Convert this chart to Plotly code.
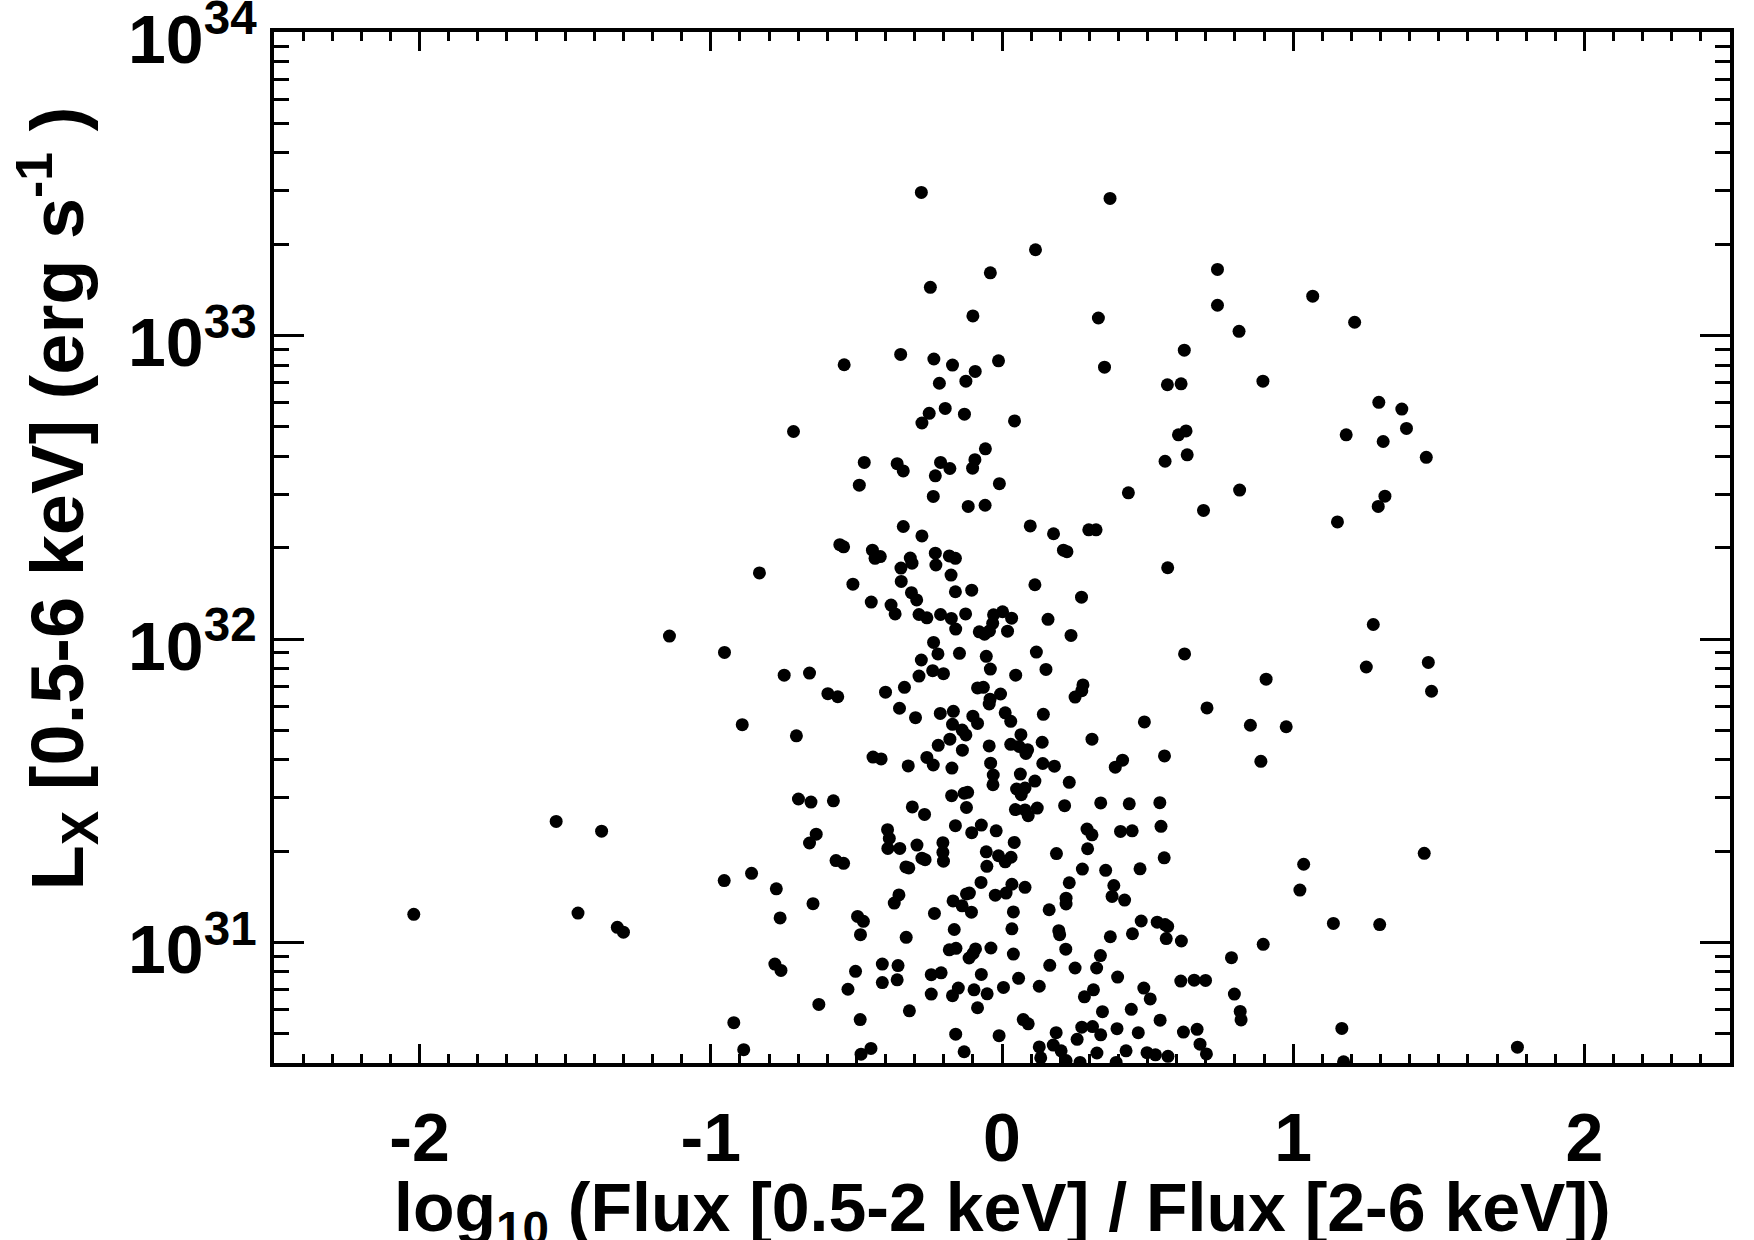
import numpy as np
import plotly.graph_objects as go

# log10(Flux[0.5-2 keV] / Flux[2-6 keV])
hardness = [
    -1.142, -1.531, -1.375, -2.020, -1.456, -1.321, -1.300,
    -0.277, -0.246, -0.542, -0.348, -0.234, -0.170, -0.215, -0.195, -0.250, -0.275, -0.716, -0.473, -0.360, -0.339, -0.211, -0.179, -0.129,
    -0.229, -0.490, -0.236, -0.339, -0.275, -0.557, -0.544, -0.445, -0.436, -0.418, -0.315, -0.309, -0.229, -0.181, -0.160, -0.347, -0.227,
    -0.833, -0.175, -0.346, -0.512, -0.311, -0.293, -0.160, -0.449, -0.381, -0.367, -0.285, -0.258, -0.211, -0.174, -0.159, -0.235, -0.220,
    -0.146, -0.953, -0.277, -0.748, -0.661, -0.238, -0.201, -0.285, -0.598, -0.564, -0.400, -0.335, -0.352, -0.297, -0.212, -0.167, -0.892,
    -0.706, -0.170, -0.219, -0.179, -0.136, -0.443, -0.415, -0.322, -0.258, -0.236, -0.172,
    -0.699, -0.656, -0.579, -0.308, -0.266, -0.173, -0.160, -0.393, -0.387, -0.638, -0.661, -0.392, -0.351, -0.292, -0.203, -0.203, -0.201,
    -0.275, -0.264, -0.570, -0.544, -0.330, -0.320, -0.954, -0.860, -0.775, -0.649, -0.762, -0.354, -0.370, -0.168, -0.232, -0.496, -0.476,
    -0.486, -0.329, -0.164, -0.181, -0.158, -0.780, -0.759, -0.503, -0.411, -0.357, -0.411, -0.360, -0.243, -0.209, -0.529, -0.243, -0.170,
    -0.150, -0.629, -0.318, -0.921, -0.487, -0.159, -0.887, -0.484, -0.450, -0.130,
    0.371, 0.115, -0.040, 0.740, -0.100, 0.331, 0.740, 0.626, -0.012, -0.092, -0.124, 0.352, 0.568, 0.615, 0.043, 0.632, 0.606, 0.636,
    0.560, -0.057, -0.093, -0.101,
    -0.009, 0.434, 0.692, -0.116, -0.058, 0.097, 0.177, 0.298, 0.323, 0.211, 0.223, 0.569, 0.113, -0.104, 0.273, -0.125, -0.029, 0.002,
    0.033, -0.032, -0.043, -0.078, -0.060, 0.019, 0.158, 0.237, 0.118, 0.627, -0.054, -0.040, 0.047, 0.151, -0.084, -0.064, -0.005, -0.041,
    -0.044, 0.278, 0.274, 0.251, 0.704, -0.100, -0.084, 0.011, 0.030, 0.142, 0.489, -0.137, -0.124, 0.065, 0.030, 0.059, 0.088, 0.082,
    0.138, -0.044, 0.309, -0.039, 0.140, 0.180, 0.389, 0.414, 0.558,
    -0.030, 0.063, -0.031, 0.113, 0.231, 0.050, 0.079, 0.066, -0.130, -0.118, -0.122, 0.046, 0.079, 0.090, 0.121, 0.215, 0.339, 0.437,
    0.542, -0.104, -0.071, -0.020, 0.042, 0.292, 0.309, 0.407, 0.447, 0.546, -0.054, -0.012, 0.011, 0.031, -0.052, 0.187, 0.294, 0.557,
    0.276, 0.356, 0.474, -0.072, 0.034, 0.079, 0.231, 0.384, -0.122, -0.112, -0.023, 0.014, 0.378, 0.421, 0.220, 0.220, -0.137, -0.105,
    0.039, 0.162, 0.034, 0.195, 0.198, 0.372, 0.448, 0.478, 0.533, 0.560, 0.569, 0.564, 0.616, -0.091, -0.099, -0.113, -0.038, 0.039,
    0.219, 0.164, 0.251, 0.325, 0.338, 0.397, -0.071, 0.057, -0.096, -0.051, 0.005, 0.128, -0.084, 0.283, 0.314, 0.487, 0.509, 0.614,
    0.660, 0.699, 0.345, 0.444, 0.543, 0.073, 0.090, -0.010, 0.186, 0.274, 0.311, 0.339, 0.395, 0.258, 0.468, 0.623, 0.670, 0.680, 0.702,
    0.128, 0.133, 0.176, 0.203, 0.220, 0.268, 0.326, 0.392, 0.426, 0.498, 0.527, 0.570,
    1.067, 1.211, 0.814, 0.896, 1.294, 1.373, 1.389, 1.182, 1.309, 1.457,
    0.816, 1.315, 1.292, 1.152, 1.275, 1.251, 1.464, 1.475, 0.907, 0.853, 0.976, 0.889,
    1.036, 1.023, 1.450, 1.138, 1.297, 0.897, 0.788, 0.798, 0.818, 0.821, 1.167, 1.770, 1.173,
]

# log10 of L_X [0.5-6 keV] in erg/s
log_lx = [
    32.010, 31.399, 31.367, 31.093, 31.097, 31.050, 31.034,
    33.472, 33.159, 32.904, 32.938, 32.923, 32.903, 32.843, 32.760, 32.744, 32.712, 32.684, 32.582, 32.578, 32.554, 32.582, 32.562, 32.741,
    32.538, 32.507, 32.470, 32.371, 32.340, 32.311, 32.304, 32.293, 32.266, 32.272, 32.267, 32.250, 32.283, 32.274, 32.266, 32.234, 32.244,
    32.218, 32.211, 32.190, 32.181, 32.153, 32.129, 32.156, 32.122, 32.112, 32.083, 32.081, 32.070, 32.081, 32.068, 32.033, 31.989, 31.951,
    31.953, 31.956, 31.931, 31.881, 31.888, 31.896, 31.886, 31.878, 31.820, 31.810, 31.825, 31.841, 31.772, 31.741, 31.755, 31.762, 31.718,
    31.681, 31.719, 31.650, 31.670, 31.634, 31.611, 31.605, 31.582, 31.610, 31.585, 31.575,
    31.473, 31.463, 31.467, 31.447, 31.422, 31.484, 31.385, 31.372, 31.343, 31.357, 31.328, 31.310, 31.310, 31.321, 31.329, 31.297, 31.268,
    31.278, 31.273, 31.270, 31.261, 31.249, 31.246, 31.204, 31.228, 31.177, 31.128, 31.081, 31.157, 31.130, 31.137, 31.096, 31.086, 31.070,
    31.026, 31.017, 31.043, 30.976, 30.981, 30.929, 30.908, 30.905, 30.929, 30.924, 30.868, 30.877, 30.894, 30.900, 30.846, 30.830, 30.825,
    30.850, 30.796, 30.775, 30.736, 30.746, 30.698, 30.647, 30.632, 30.651, 30.640,
    33.452, 33.283, 33.207, 33.218, 33.065, 33.058, 33.100, 32.952, 32.917, 32.882, 32.850, 32.896, 32.838, 32.841, 32.719, 32.686, 32.673,
    32.607, 32.586, 32.627, 32.591, 32.563,
    32.512, 32.482, 32.424, 32.437, 32.441, 32.373, 32.347, 32.360, 32.360, 32.293, 32.288, 32.235, 32.179, 32.161, 32.138, 32.083, 32.080,
    32.090, 32.069, 32.052, 32.027, 32.024, 32.016, 32.026, 32.065, 32.012, 31.957, 31.951, 31.943, 31.901, 31.881, 31.900, 31.839, 31.841,
    31.819, 31.802, 31.786, 31.849, 31.830, 31.809, 31.773, 31.746, 31.722, 31.757, 31.729, 31.752, 31.727, 31.700, 31.684, 31.685, 31.653,
    31.646, 31.635, 31.623, 31.660, 31.648, 31.670, 31.591, 31.590, 31.581, 31.578, 31.601, 31.615,
    31.552, 31.555, 31.520, 31.532, 31.528, 31.506, 31.509, 31.487, 31.492, 31.495, 31.445, 31.438, 31.437, 31.418, 31.443, 31.451, 31.460,
    31.457, 31.461, 31.362, 31.387, 31.368, 31.330, 31.374, 31.355, 31.366, 31.368, 31.383, 31.299, 31.286, 31.266, 31.281, 31.251, 31.293,
    31.309, 31.279, 31.242, 31.238, 31.243, 31.198, 31.192, 31.182, 31.197, 31.188, 31.160, 31.163, 31.156, 31.163, 31.152, 31.140, 31.146,
    31.127, 31.121, 31.100, 31.101, 31.108, 31.045, 31.039, 31.026, 31.019, 31.029, 31.071, 31.067, 31.059, 31.053, 31.013, 31.005, 30.979,
    30.964, 30.949, 30.982, 30.962, 30.978, 30.925, 30.916, 30.916, 30.957, 30.886, 30.895, 30.882, 30.844, 30.831, 30.852, 30.856, 30.785,
    30.821, 30.844, 30.850, 30.814, 30.873, 30.876, 30.875, 30.772, 30.780, 30.744, 30.746, 30.732, 30.693, 30.703, 30.721, 30.723, 30.696,
    30.716, 30.681, 30.703, 30.705, 30.714, 30.665, 30.633, 30.656, 30.620, 30.662, 30.643, 30.611, 30.605, 30.636, 30.605, 30.643, 30.637,
    30.630, 30.625,
    33.130, 33.044, 33.014, 32.850, 32.780, 32.758, 32.694, 32.673, 32.651, 32.599,
    32.491, 32.471, 32.437, 32.386, 32.048, 31.908, 31.923, 31.828, 31.868, 31.716, 31.711, 31.597,
    31.258, 31.173, 31.294, 31.063, 31.059, 30.994, 30.950, 30.830, 30.773, 30.745, 30.717, 30.655, 30.607,
]

x_tickvals = [-2, -1, 0, 1, 2]
x_ticktext = ["-2", "-1", "0", "1", "2"]
y_tickvals = [1e31, 1e32, 1e33, 1e34]
y_ticktext = ["10<sup>31</sup>", "10<sup>32</sup>", "10<sup>33</sup>", "10<sup>34</sup>"]

lx = 10 ** np.array(log_lx)

FONT = "Liberation Sans, Arial, Helvetica, sans-serif"
tickfont = dict(family=FONT, size=68, color="black", weight="bold")

fig = go.Figure()
fig.add_trace(go.Scatter(
    x=hardness, y=lx, mode="markers",
    marker=dict(color="black", size=13, line=dict(width=0)),
    cliponaxis=True, showlegend=False,
))

axis_common = dict(
    showline=True, linewidth=3.5, linecolor="black", mirror="ticks",
    ticks="inside", tickwidth=3, tickcolor="black",
    showgrid=False, zeroline=False, tickfont=tickfont, automargin=False,
    ticklabeloverflow="allow",
)

fig.update_layout(
    template="none",
    width=1754, height=1240,
    margin=dict(l=274, r=24, t=32, b=177, autoexpand=False),
    paper_bgcolor="white", plot_bgcolor="white",
    xaxis=dict(
        range=[-2.5, 2.5], tickmode="array", tickvals=x_tickvals, ticktext=x_ticktext,
        ticklen=19, ticklabelstandoff=13,
        minor=dict(dtick=0.1, tick0=0, ticks="inside", ticklen=9, tickwidth=3, tickcolor="black", showgrid=False),
        **axis_common,
    ),
    yaxis=dict(
        type="log", range=[30.603, 34.0005], tickmode="array", tickvals=y_tickvals, ticktext=y_ticktext,
        ticklen=30, ticklabelshift=7,
        minor=dict(dtick="D1", ticks="inside", ticklen=15, tickwidth=3, tickcolor="black", showgrid=False),
        **axis_common,
    ),
    annotations=[
        dict(text="log<sub>10</sub> (Flux [0.5-2 keV] / Flux [2-6 keV])",
             xref="paper", yref="paper", x=0.5, y=-0.1445, xanchor="center", yanchor="middle",
             showarrow=False, font=dict(family=FONT, size=68, color="black", weight="bold")),
        dict(text="L<sub>X</sub> [0.5-6 keV] (erg s<sup>-1</sup> )",
             xref="paper", yref="paper", x=-0.149, y=0.5476, xanchor="center", yanchor="middle",
             textangle=-90, showarrow=False,
             font=dict(family=FONT, size=74, color="black", weight="bold")),
    ],
)

fig.write_html(
    "out.html",
    config={"displayModeBar": False},
    post_script="document.body.style.margin='0px';document.body.style.overflow='hidden';",
)
